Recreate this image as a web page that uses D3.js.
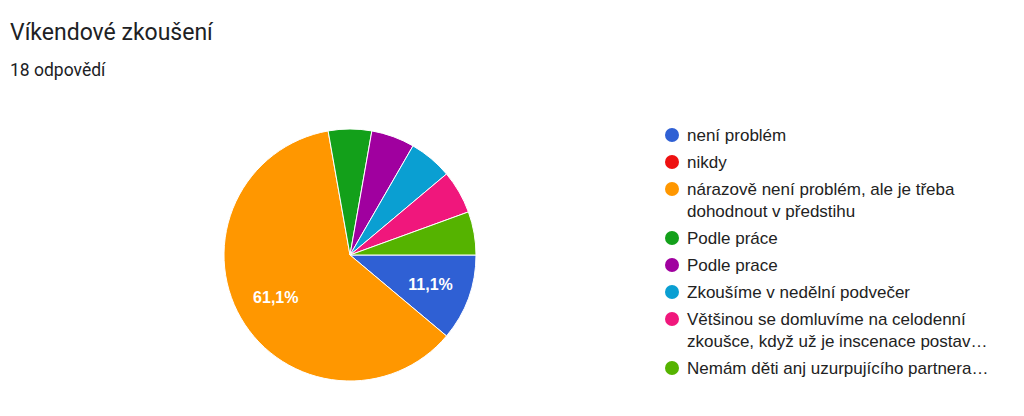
<!DOCTYPE html>
<html><head><meta charset="utf-8">
<script src="https://cdn.jsdelivr.net/npm/d3@7"></script>
<style>body{margin:0;background:#fff;}svg{display:block;}</style>
</head><body>
<svg id="c" width="1024" height="416"></svg>
<script>
const categories = ["není problém","nikdy","nárazově není problém, ale je třeba dohodnout v předstihu","Podle práce","Podle prace","Zkoušíme v nedělní podvečer","Většinou se domluvíme na celodenní zkoušce, když už je inscenace postavená","Nemám děti anj uzurpujícího partnera"];
const legendLines = [["není problém"],["nikdy"],["nárazově není problém, ale je třeba","dohodnout v předstihu"],["Podle práce"],["Podle prace"],["Zkoušíme v nedělní podvečer"],["Většinou se domluvíme na celodenní","zkoušce, když už je inscenace postav…"],["Nemám děti anj uzurpujícího partnera…"]];
const values = [2,0,11,1,1,1,1,1];
const colors = ["#2f60d4","#ee1111","#ff9700","#13a01a","#a0009f","#0a9fd2","#f0177c","#55b300"];
const title = "Víkendové zkoušení";
const subtitle = "18 odpovědí";

const svg = d3.select("#c");
svg.append("text").attr("x",10).attr("y",40).attr("font-family","Roboto, 'Open Sans', sans-serif").attr("font-size",23).attr("fill","#202124").text(title);
svg.append("text").attr("x",10).attr("y",76).attr("font-family","Roboto, sans-serif").attr("font-size",17.5).attr("fill","#202124").text(subtitle);

const cx=350, cy=255, r=126;
const total = d3.sum(values);
const pie = d3.pie().sort(null).value(d=>d).startAngle(Math.PI/2).endAngle(Math.PI/2+2*Math.PI);
const arcs = pie(values);
const arc = d3.arc().innerRadius(0).outerRadius(r);
const g = svg.append("g").attr("transform",`translate(${cx},${cy})`);
g.selectAll("path").data(arcs.filter(a=>a.value>0)).join("path")
  .attr("d",arc).attr("fill",(d)=>colors[d.index]).attr("stroke","#fff").attr("stroke-width",1);
const labelArc = d3.arc().innerRadius(r*0.68).outerRadius(r*0.68);
const fmt = v => (v/total*100).toFixed(1).replace(".",",")+"%";
g.selectAll("text.l").data(arcs.filter(a=>a.value/total>0.1)).join("text")
  .attr("class","l")
  .attr("transform",d=>`translate(${labelArc.centroid(d)})`)
  .attr("text-anchor","middle").attr("dy","0.35em")
  .attr("font-family","'Liberation Sans', Arial, sans-serif").attr("font-size",16).attr("font-weight","bold")
  .attr("fill","#fff").text(d=>fmt(d.value));

const lg = svg.append("g");
let y = 135;
legendLines.forEach((lines,i)=>{
  lg.append("circle").attr("cx",672).attr("cy",y).attr("r",7).attr("fill",colors[i]);
  lines.forEach((t,j)=>{
    lg.append("text").attr("x",687).attr("y",y+j*22).attr("dy","0.35em")
      .attr("font-family","'Liberation Sans', Arial, sans-serif").attr("font-size",17).attr("fill","#222").text(t);
  });
  y += 27 + (lines.length-1)*22;
});
</script>
</body></html>
